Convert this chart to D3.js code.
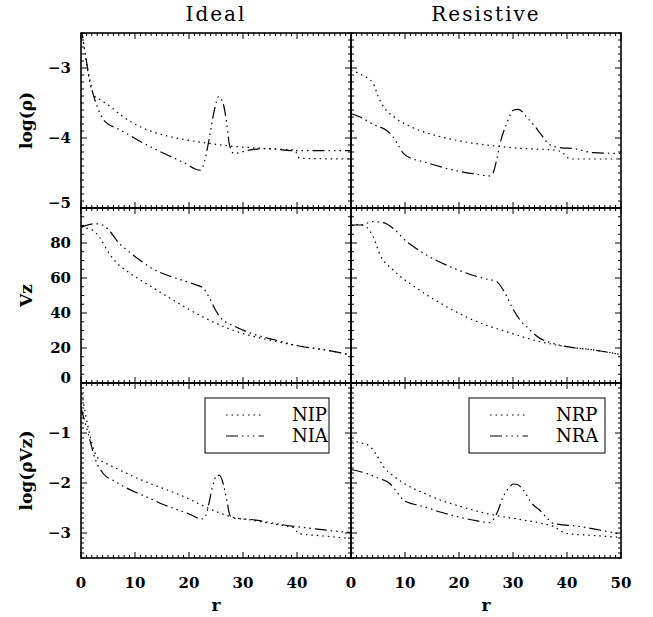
<!DOCTYPE html>
<html><head><meta charset="utf-8">
<script src="https://cdn.jsdelivr.net/npm/d3@7"></script>
<style>body{margin:0;background:#fff}svg{display:block}text{font-family:'DejaVu Serif',serif;fill:#000}</style>
</head><body><svg id="c" width="653" height="617"></svg>
<script>
// ---- data (r, value) ----
const NIP_logRho=[[0,-2.4],[0.7,-2.75],[1.5,-3.15],[2.5,-3.4],[3.5,-3.45],[5.4,-3.55],[7.5,-3.68],[9.7,-3.79],[12.5,-3.89],[15.9,-3.97],[19,-4.02],[22.1,-4.06],[25,-4.09],[28.3,-4.12],[32,-4.14],[36,-4.16],[39.5,-4.17],[40.5,-4.29],[50,-4.3]];
const NIA_logRho=[[0,-2.4],[1,-2.9],[2,-3.3],[3,-3.55],[4,-3.72],[5,-3.8],[6.6,-3.86],[9,-3.96],[11,-4.05],[13.5,-4.15],[15.9,-4.24],[19,-4.35],[22.1,-4.46],[22.6,-4.4],[23.7,-4.03],[24.7,-3.6],[25.5,-3.41],[26.3,-3.5],[27,-3.8],[27.5,-4.1],[28.3,-4.22],[31.4,-4.17],[34.5,-4.15],[39.5,-4.18],[50,-4.18]];
const NRP_logRho=[[0,-3.03],[2,-3.1],[4.1,-3.22],[5,-3.4],[6,-3.55],[8,-3.7],[10.3,-3.81],[13,-3.9],[16.5,-3.98],[20,-4.04],[25.1,-4.1],[31.9,-4.15],[37.5,-4.17],[39,-4.2],[40.6,-4.3],[50,-4.3]];
const NRA_logRho=[[0,-3.65],[1.7,-3.7],[4,-3.8],[7.2,-3.93],[8.5,-4.07],[9.7,-4.22],[11.5,-4.3],[13.4,-4.34],[16.5,-4.41],[19.6,-4.47],[22.5,-4.51],[25.7,-4.54],[26.3,-4.5],[27,-4.3],[27.6,-4.08],[28.8,-3.8],[30.1,-3.6],[31,-3.59],[32.5,-3.7],[34,-3.83],[35,-3.93],[36.9,-4.1],[39,-4.14],[41.2,-4.15],[44.9,-4.21],[50,-4.22]];

const NIP_vz=[[0,89],[2,87.5],[3.5,83],[5,75],[6.5,69],[8.5,64],[12.8,55.5],[17.8,46],[22.1,38.5],[28.3,30],[34.5,24.8],[40.7,21],[45,19],[50,16]];
const NIA_vz=[[0,89],[1.5,90.5],[2.5,91],[3.8,90.5],[5.4,86.5],[7,80],[8.5,76],[11,70],[13.4,65],[17,60.5],[20.9,56.5],[22.7,54.1],[23.3,51.2],[24,47.4],[24.9,41.7],[25.8,37.5],[28.3,32.6],[31.4,28.5],[35.7,24.8],[40.7,21],[45,19],[50,16]];
const NRP_vz=[[0,90.3],[1.5,90.5],[2.9,89],[4.1,83.6],[5.4,73.1],[7.8,64.6],[12.2,54.1],[17.7,43.6],[22.6,36],[28.8,29.3],[35,23.6],[41.2,20.2],[44.9,18.9],[50,16.2]];
const NRA_vz=[[0,90.3],[1.7,90.3],[4.1,92.2],[6,91.6],[7.8,88.4],[10.3,80.8],[12,77],[14,73.1],[18.3,66.5],[24.5,59.8],[27,57.9],[28.2,53.1],[30.1,41.7],[31.3,36],[32.5,32.2],[35,25.5],[37,23],[41.2,20.2],[44.9,18.9],[50,16.2]];

const NIP_logFlux=[[0,-0.1],[0.8,-0.6],[1.7,-1.07],[2.9,-1.47],[4.5,-1.6],[6.6,-1.71],[9.5,-1.86],[12.8,-2.01],[16,-2.14],[19,-2.27],[22.1,-2.43],[25,-2.57],[28.3,-2.69],[31.4,-2.74],[34.5,-2.8],[38,-2.86],[39.5,-2.9],[40.3,-3.01],[45,-3.06],[50,-3.11]];
const NIA_logFlux=[[0,-0.5],[1.4,-1.04],[2.6,-1.51],[4.1,-1.81],[6,-1.95],[7.9,-2.07],[10,-2.18],[12.8,-2.31],[15,-2.42],[17.2,-2.51],[20,-2.62],[22.4,-2.72],[23,-2.68],[23.5,-2.5],[24.3,-2.1],[25.2,-1.84],[25.7,-1.85],[26.3,-2.0],[27,-2.35],[27.6,-2.65],[28.2,-2.7],[31.4,-2.73],[34.5,-2.78],[37.6,-2.84],[42,-2.9],[46,-2.95],[50,-2.99]];
const NRP_logFlux=[[0,-1.16],[2,-1.2],[3.5,-1.27],[4.8,-1.45],[6,-1.67],[8,-1.87],[10.3,-2.04],[13,-2.18],[16.5,-2.34],[20,-2.46],[25.1,-2.61],[31.9,-2.74],[35,-2.8],[37.5,-2.87],[39.9,-3.01],[45,-3.05],[50,-3.09]];
const NRA_logFlux=[[0,-1.73],[2.9,-1.81],[5,-1.9],[7.2,-2.01],[8.5,-2.18],[9.7,-2.34],[11.5,-2.42],[13.4,-2.47],[16.5,-2.58],[19.6,-2.67],[22.5,-2.74],[25.7,-2.79],[26.3,-2.74],[27,-2.61],[28.2,-2.27],[29.2,-2.1],[30.1,-2.02],[30.8,-2.03],[31.9,-2.14],[33.5,-2.41],[35,-2.55],[36.3,-2.7],[37.5,-2.81],[42.4,-2.87],[46,-2.94],[50,-3.02]];

const columnTitles=["Ideal","Resistive"];
const rowTitles=["log(\u03C1)","Vz","log(\u03C1Vz)"];
const xTicksLeft=[0,10,20,30,40];
const xTicksRight=[0,10,20,30,40,50];
const rowDomains=[[-5,-2.5],[0,100],[-3.5,0]];
const rowTicks=[[-3,-4,-5],[80,60,40,20,0],[-1,-2,-3]];
const rowMinorStep=[0.1,5,0.1];
const legendLabels=[["NIP","NIA"],["NRP","NRA"]];
const series=[
  [[NIP_logRho,NIA_logRho],[NRP_logRho,NRA_logRho]],
  [[NIP_vz,NIA_vz],[NRP_vz,NRA_vz]],
  [[NIP_logFlux,NIA_logFlux],[NRP_logFlux,NRA_logFlux]]
];

// ---- layout ----
const svg=d3.select("#c");
const colX=[81,351], W=270;
const rowY=[33,208,383], H=175;
const dashStyles=["1.5,4","12,4,1.5,4,1.5,4,1.5,4"];
const fmt=v=>(v<0?"\u2212"+Math.abs(v):String(v));

const defs=svg.append("defs");
for(let r=0;r<3;r++){
  for(let c=0;c<2;c++){
    const x0=colX[c], y0=rowY[r];
    const xs=d3.scaleLinear().domain([0,50]).range([x0,x0+W]);
    const ys=d3.scaleLinear().domain(rowDomains[r]).range([y0+H,y0]);
    const id="clip"+r+c;
    defs.append("clipPath").attr("id",id).append("rect").attr("x",x0).attr("y",y0).attr("width",W).attr("height",H);
    const g=svg.append("g");
    const line=d3.line().x(d=>xs(d[0])).y(d=>ys(d[1])).curve(d3.curveMonotoneX);
    series[r][c].forEach((s,i)=>{
      g.append("path").attr("d",line(s)).attr("fill","none").attr("stroke","#000")
       .attr("stroke-width",1.2).attr("stroke-dasharray",dashStyles[i]).attr("clip-path","url(#"+id+")");
    });
    const xMajor=d3.range(0,51,10), xMinor=d3.range(0,51,1).filter(v=>v%10!==0);
    const tk=g.append("g").attr("stroke","#000").attr("stroke-width",1);
    xMajor.forEach(v=>{const X=xs(v);
      tk.append("line").attr("x1",X).attr("x2",X).attr("y1",y0+H).attr("y2",y0+H-6);
      tk.append("line").attr("x1",X).attr("x2",X).attr("y1",y0).attr("y2",y0+6);});
    xMinor.forEach(v=>{const X=xs(v);
      tk.append("line").attr("x1",X).attr("x2",X).attr("y1",y0+H).attr("y2",y0+H-3);
      tk.append("line").attr("x1",X).attr("x2",X).attr("y1",y0).attr("y2",y0+3);});
    const [d0,d1]=rowDomains[r], st=rowMinorStep[r];
    const n=Math.round((d1-d0)/st);
    for(let k=0;k<=n;k++){
      const v=d0+k*st; const Y=ys(v);
      const isMajor=rowTicks[r].some(t=>Math.abs(t-v)<1e-6);
      const L=isMajor?6:3;
      tk.append("line").attr("x1",x0).attr("x2",x0+L).attr("y1",Y).attr("y2",Y);
      tk.append("line").attr("x1",x0+W).attr("x2",x0+W-L).attr("y1",Y).attr("y2",Y);
    }
    g.append("rect").attr("x",x0).attr("y",y0).attr("width",W).attr("height",H)
     .attr("fill","none").attr("stroke","#000").attr("stroke-width",1.6);
    if(c===0){
      rowTicks[r].forEach(v=>{
        const Y=Math.min(ys(v),y0+H-5);
        g.append("text").attr("x",x0-10).attr("y",Y).attr("text-anchor","end")
         .attr("dominant-baseline","central").attr("font-size",15).attr("font-weight","bold").text(fmt(v));
      });
      g.append("text").attr("transform","translate(26,"+(y0+H/2)+") rotate(-90)")
       .attr("text-anchor","middle").attr("dominant-baseline","central").attr("font-size",17)
       .attr("font-weight","bold").text(rowTitles[r]);
    }
    if(r===0){
      g.append("text").attr("x",x0+W/2).attr("y",21).attr("text-anchor","middle")
       .attr("font-size",20).attr("letter-spacing",2).text(columnTitles[c]);
    }
    if(r===2){
      (c===0?xTicksLeft:xTicksRight).forEach(v=>{
        g.append("text").attr("x",xs(v)).attr("y",588).attr("text-anchor","middle")
         .attr("font-size",15).attr("font-weight","bold").text(v);
      });
      g.append("text").attr("x",x0+W/2).attr("y",611).attr("text-anchor","middle")
       .attr("font-size",17).attr("font-weight","bold").text("r");
      const bx=c===0?205:469, bw=c===0?124:136, by=398, bh=55;
      const lg=g.append("g");
      lg.append("rect").attr("x",bx).attr("y",by).attr("width",bw).attr("height",bh)
        .attr("fill","#fff").attr("stroke","#000").attr("stroke-width",1);
      legendLabels[c].forEach((lab,i)=>{
        const ly=by+17+i*21;
        lg.append("line").attr("x1",bx+21).attr("x2",bx+59).attr("y1",ly).attr("y2",ly)
          .attr("stroke","#000").attr("stroke-width",1.2).attr("stroke-dasharray",dashStyles[i]);
        lg.append("text").attr("x",bx+87).attr("y",ly+6).attr("font-size",18).text(lab);
      });
    }
  }
}
</script></body></html>
